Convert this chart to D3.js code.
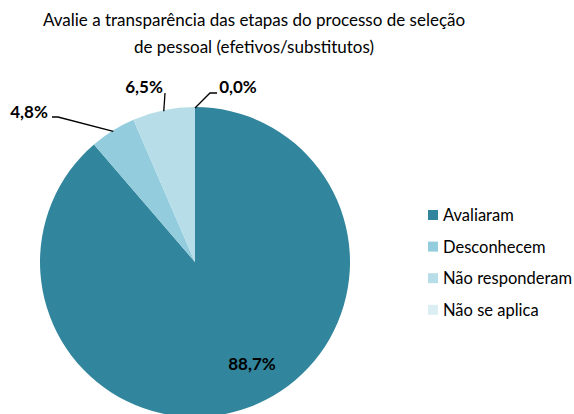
<!DOCTYPE html>
<html>
<head>
<meta charset="utf-8">
<script src="https://cdn.jsdelivr.net/npm/d3@7"></script>
<style>
  html, body { margin: 0; padding: 0; background: #fff; }
  svg { display: block; }
  text { font-family: Lato, "Open Sans", sans-serif; fill: #000; }
</style>
</head>
<body>
<svg id="chart" width="574" height="414"></svg>
<script>
// Survey answers
const categories = ["Avaliaram", "Desconhecem", "Não responderam", "Não se aplica"];
const values = [88.7, 4.8, 6.5, 0.0];
const colors = ["#31859C", "#93CDDD", "#B7DEE8", "#DAEEF3"];
const titleLines = ["Avalie a transparência das etapas do processo de seleção", "de pessoal (efetivos/substitutos)"];

const svg = d3.select("#chart");
const cx = 195, cy = 262, r = 155;

// Title
svg.append("g").selectAll("text").data(titleLines).join("text")
  .attr("x", 254).attr("y", (d, i) => 26 + i * 27)
  .attr("text-anchor", "middle")
  .style("font-size", "17px")
  .text(d => d);

const data = categories.map((c, i) => ({ name: c, value: values[i], color: colors[i] }));
const pie = d3.pie().sort(null).value(d => d.value);
const arcs = pie(data);
const arc = d3.arc().innerRadius(0).outerRadius(r);

const g = svg.append("g").attr("transform", `translate(${cx},${cy})`);
g.selectAll("path").data(arcs).join("path")
  .attr("d", arc)
  .attr("fill", d => d.data.color);

const fmt = v => d3.format(".1f")(v).replace(".", ",") + "%";

// Label layout: text anchor point and leader line points relative to the pie centre
const labelPos = [
  { text: [57, 102], line: null },
  { text: [-166, -150], line: "outer", elbow: [-137, -145], end: [-143, -145] },
  { text: [-51, -175], line: "outer", elbow: [-30, -169], end: [-30, -169] },
  { text: [43, -175], line: "outer", elbow: [15, -169], end: [22, -169] }
];

arcs.forEach((a, i) => {
  const lp = labelPos[i];
  if (lp.line) {
    const mid = (a.startAngle + a.endAngle) / 2;
    const p0 = [Math.sin(mid) * (r - 1), -Math.cos(mid) * (r - 1)];
    g.append("polyline")
      .attr("points", [p0, lp.elbow, lp.end].map(p => p.join(",")).join(" "))
      .attr("fill", "none").attr("stroke", "#000").attr("stroke-width", 1.3);
  }
  g.append("text")
    .attr("x", lp.text[0]).attr("y", lp.text[1])
    .attr("text-anchor", "middle")
    .attr("dy", "0.35em")
    .style("font-size", "17px").style("font-weight", "bold")
    .text(fmt(a.data.value));
});

// Legend
const legend = svg.append("g").attr("transform", "translate(428,215)");
const rows = legend.selectAll("g").data(data).join("g")
  .attr("transform", (d, i) => `translate(0,${i * 31.6})`);
rows.append("rect").attr("x", 0).attr("y", -5).attr("width", 10).attr("height", 10)
  .attr("fill", d => d.color);
rows.append("text").attr("x", 15).attr("dy", "0.36em")
  .style("font-size", "16.5px").text(d => d.name);
</script>
</body>
</html>
